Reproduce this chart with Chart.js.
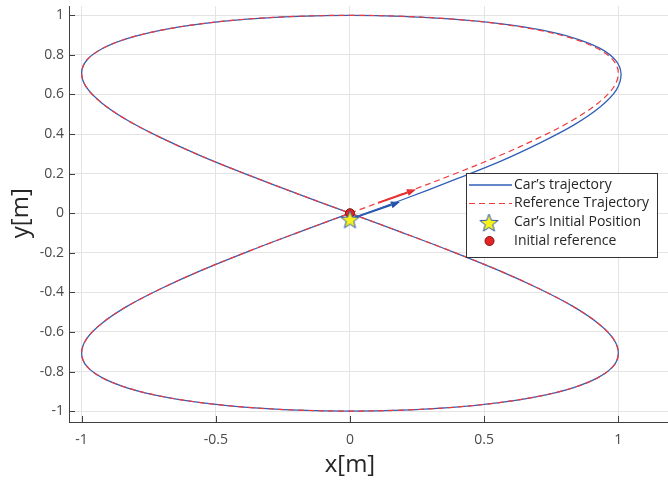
<!DOCTYPE html>
<html>
<head>
<meta charset="utf-8">
<script src="https://cdn.jsdelivr.net/npm/chart.js@4.4.1/dist/chart.umd.min.js"></script>
<style>
  body { margin:0; background:#fff; }
</style>
</head>
<body>
<canvas id="chartTraj" width="668" height="481"></canvas>
<script>
// Data (one lap of the figure-eight, starting at the origin)
const refX = [0, 0.195, 0.383, 0.556, 0.707, 0.831, 0.924, 0.981, 1, 0.981, 0.924, 0.831, 0.707, 0.556, 0.383, 0.195,
              0, -0.195, -0.383, -0.556, -0.707, -0.831, -0.924, -0.981, -1, -0.981, -0.924, -0.831, -0.707, -0.556, -0.383, -0.195,
              0, 0.195, 0.383, 0.556, 0.707, 0.831, 0.924, 0.981, 1, 0.981, 0.924, 0.831, 0.707, 0.556, 0.383, 0.195,
              0, -0.195, -0.383, -0.556, -0.707, -0.831, -0.924, -0.981, -1, -0.981, -0.924, -0.831, -0.707, -0.556, -0.383, -0.195, 0];
const refY = [0, 0.098, 0.195, 0.29, 0.383, 0.471, 0.556, 0.634, 0.707, 0.773, 0.831, 0.882, 0.924, 0.957, 0.981, 0.995,
              1, 0.995, 0.981, 0.957, 0.924, 0.882, 0.831, 0.773, 0.707, 0.634, 0.556, 0.471, 0.383, 0.29, 0.195, 0.098,
              0, -0.098, -0.195, -0.29, -0.383, -0.471, -0.556, -0.634, -0.707, -0.773, -0.831, -0.882, -0.924, -0.957, -0.981, -0.995,
              -1, -0.995, -0.981, -0.957, -0.924, -0.882, -0.831, -0.773, -0.707, -0.634, -0.556, -0.471, -0.383, -0.29, -0.195, -0.098, 0];
const carX = [0, 0.195, 0.385, 0.56, 0.712, 0.838, 0.933, 0.992, 1.01, 0.99, 0.932, 0.838, 0.712, 0.558, 0.383, 0.195,
              0, -0.195, -0.383, -0.556, -0.707, -0.831, -0.924, -0.981, -1, -0.981, -0.924, -0.831, -0.707, -0.556, -0.383, -0.195,
              0, 0.195, 0.383, 0.556, 0.707, 0.831, 0.924, 0.981, 1, 0.981, 0.924, 0.831, 0.707, 0.556, 0.383, 0.195,
              0, -0.195, -0.383, -0.556, -0.707, -0.831, -0.924, -0.981, -1, -0.981, -0.924, -0.831, -0.707, -0.556, -0.383, -0.195, 0];
const carY = [-0.03, 0.068, 0.167, 0.262, 0.358, 0.449, 0.538, 0.622, 0.703, 0.772, 0.833, 0.884, 0.926, 0.958, 0.981, 0.995,
              1, 0.995, 0.981, 0.957, 0.924, 0.882, 0.831, 0.773, 0.707, 0.634, 0.556, 0.471, 0.383, 0.29, 0.195, 0.098,
              0, -0.098, -0.195, -0.29, -0.383, -0.471, -0.556, -0.634, -0.707, -0.773, -0.831, -0.882, -0.924, -0.957, -0.981, -0.995,
              -1, -0.995, -0.981, -0.957, -0.924, -0.882, -0.831, -0.773, -0.707, -0.634, -0.556, -0.471, -0.383, -0.29, -0.195, -0.098, 0];
const carStart = {x: 0, y: -0.03};
const refStart = {x: 0, y: 0};
// heading arrows: [x0, y0, x1, y1]
const arrowCar = [0, -0.03, 0.186, 0.057];
const arrowRef = [0.105, 0.052, 0.246, 0.12];
const xTicks = [-1, -0.5, 0, 0.5, 1];
const yTicks = [-1, -0.8, -0.6, -0.4, -0.2, 0, 0.2, 0.4, 0.6, 0.8, 1];

const BLUE = "#2f5fb6", RED = "#ee3a3e", AXIS = "#404040", FONT = "'Open Sans', sans-serif";

// star marker (pentagram, yellow with blue edge)
function makeStar(r){
  const s = Math.ceil(r*2 + 4);
  const c = document.createElement("canvas");
  c.width = c.height = s;
  const g = c.getContext("2d");
  g.beginPath();
  for(let i=0;i<10;i++){
    const a = -Math.PI/2 + i*Math.PI/5;
    const rr = i%2 ? r*0.42 : r;
    g.lineTo(s/2 + rr*Math.cos(a), s/2 + 1 + rr*Math.sin(a));
  }
  g.closePath();
  g.fillStyle = "#f7f21c"; g.fill();
  g.strokeStyle = "#2b55ad"; g.lineWidth = 1; g.stroke();
  return c;
}
const starImg = makeStar(9.5);

const pts = (xs, ys) => xs.map((x,i)=>({x, y: ys[i]}));

function drawArrow(ctx, xs, ys, a, color, w){
  const x0 = xs.getPixelForValue(a[0]), y0 = ys.getPixelForValue(a[1]);
  const x1 = xs.getPixelForValue(a[2]), y1 = ys.getPixelForValue(a[3]);
  const ang = Math.atan2(y1-y0, x1-x0), L = 9, W = 3.5;
  const bx = x1 - L*Math.cos(ang), by = y1 - L*Math.sin(ang);
  ctx.save();
  ctx.strokeStyle = color; ctx.fillStyle = color; ctx.lineWidth = w;
  ctx.beginPath(); ctx.moveTo(x0,y0); ctx.lineTo(bx,by); ctx.stroke();
  ctx.beginPath();
  ctx.moveTo(x1,y1);
  ctx.lineTo(bx - W*Math.sin(ang), by + W*Math.cos(ang));
  ctx.lineTo(bx + W*Math.sin(ang), by - W*Math.cos(ang));
  ctx.closePath(); ctx.fill();
  ctx.restore();
}

const extras = {
  id: "extras",
  beforeDatasetsDraw(chart){
    const {ctx, scales:{x, y}} = chart;
    drawArrow(ctx, x, y, arrowRef, "#e42a2a", 2);
    drawArrow(ctx, x, y, arrowCar, "#2450a8", 2);
  },
  afterDraw(chart){
    const {ctx, chartArea:a, scales:{x, y}} = chart;
    ctx.save();
    // inward tick marks
    ctx.strokeStyle = AXIS; ctx.lineWidth = 1;
    ctx.beginPath();
    yTicks.forEach(v=>{ const p = Math.round(y.getPixelForValue(v))+0.5; ctx.moveTo(a.left, p); ctx.lineTo(a.left+6, p); });
    xTicks.forEach(v=>{ const p = Math.round(x.getPixelForValue(v))+0.5; ctx.moveTo(p, a.bottom); ctx.lineTo(p, a.bottom-6); });
    ctx.stroke();

    // axis titles
    ctx.fillStyle = "#262626";
    ctx.font = "24px " + FONT;
    ctx.textAlign = "center"; ctx.textBaseline = "middle";
    ctx.fillText("x[m]", x.getPixelForValue(0), 465);
    ctx.translate(21, y.getPixelForValue(0));
    ctx.rotate(-Math.PI/2);
    ctx.fillText("y[m]", 0, 0);
    ctx.restore();

    // legend box
    ctx.save();
    const L = 466.5, T = 173.5, W = 191, H = 84;
    ctx.fillStyle = "#fff"; ctx.fillRect(L, T, W, H);
    ctx.strokeStyle = "#333"; ctx.lineWidth = 1; ctx.strokeRect(L, T, W, H);
    const ds = chart.data.datasets;
    const rows = [185, 203.5, 222.5, 241];
    ctx.font = "14px " + FONT; ctx.textBaseline = "middle"; ctx.textAlign = "left";
    ds.forEach((d,i)=>{
      const yy = rows[i];
      if(d.showLine){
        ctx.save();
        ctx.strokeStyle = d.borderColor; ctx.lineWidth = d.borderWidth;
        ctx.setLineDash(d.borderDash || []);
        ctx.beginPath(); ctx.moveTo(469, yy); ctx.lineTo(512, yy); ctx.stroke();
        ctx.restore();
      } else if(d.pointStyle === starImg){
        ctx.drawImage(starImg, 489 - starImg.width/2, yy - starImg.height/2);
      } else {
        ctx.beginPath(); ctx.arc(489.5, yy, 4.5, 0, Math.PI*2);
        ctx.fillStyle = d.backgroundColor; ctx.fill();
        ctx.strokeStyle = d.borderColor; ctx.lineWidth = 1; ctx.stroke();
      }
      ctx.fillStyle = "#262626";
      ctx.fillText(d.label, 514, yy);
    });
    ctx.restore();
  }
};

const tickFont = {family: "'Open Sans', sans-serif", size: 14};

new Chart(document.getElementById("chartTraj").getContext("2d"), {
  type: "scatter",
  data: { datasets: [
    { label:"Car’s trajectory", data: pts(carX, carY), showLine:true, borderColor:BLUE, borderWidth:1.3,
      pointRadius:0, tension:0.35, order:3 },
    { label:"Reference Trajectory", data: pts(refX, refY), showLine:true, borderColor:RED, borderWidth:1.2,
      borderDash:[6,4], pointRadius:0, tension:0.35, order:2 },
    { label:"Car’s Initial Position", data:[carStart], showLine:false, pointStyle:starImg, order:0 },
    { label:"Initial reference", data:[refStart], showLine:false, pointRadius:4.5, backgroundColor:"#e62222",
      borderColor:"#7a1414", borderWidth:1, order:1 }
  ]},
  options: {
    responsive:false, animation:false,
    layout:{ autoPadding:false, padding:{ top:6, left:0, right:0, bottom:0 } },
    plugins:{ legend:{display:false}, tooltip:{enabled:false} },
    scales:{
      x:{ type:"linear", min:-1.047, max:1.185,
          afterBuildTicks: s => { s.ticks = xTicks.map(v=>({value:v})); },
          afterFit: s => { s.height = 59; s.paddingLeft = 0; s.paddingRight = 0; },
          grid:{ color:"#e4e4e4", drawTicks:false },
          border:{ color:AXIS, width:1 },
          ticks:{ padding:10, color:"#4a4a4a", font:tickFont, callback: v => String(v) } },
      y:{ type:"linear", min:-1.055, max:1.047,
          afterBuildTicks: s => { s.ticks = yTicks.map(v=>({value:v})); },
          afterFit: s => { s.width = 69; s.paddingTop = 0; s.paddingBottom = 0; },
          grid:{ color:"#e4e4e4", drawTicks:false },
          border:{ color:AXIS, width:1 },
          ticks:{ padding:5, color:"#4a4a4a", font:tickFont, callback: v => String(v) } }
    }
  },
  plugins:[extras]
});
</script>
</body>
</html>
